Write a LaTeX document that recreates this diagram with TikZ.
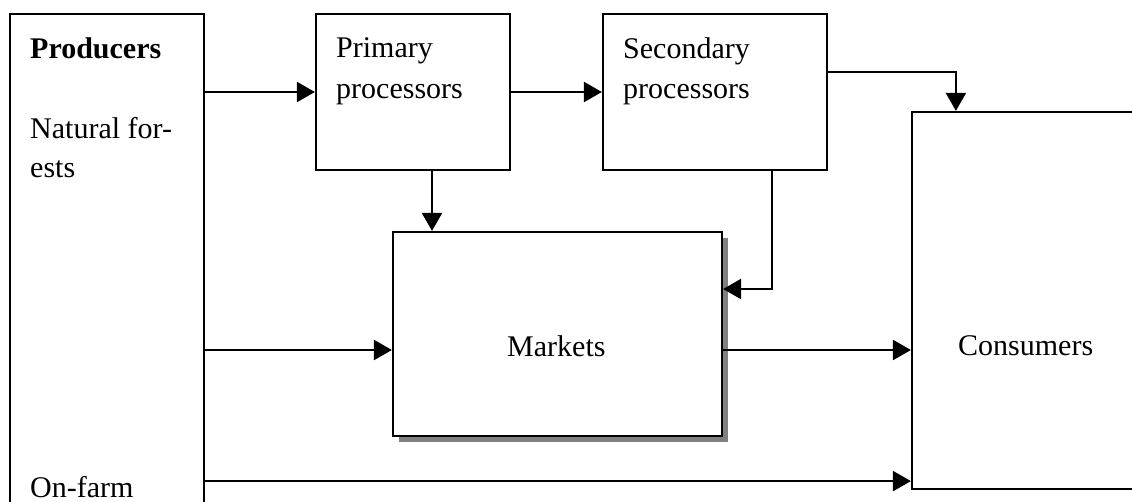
\documentclass[tikz,border=0pt]{standalone}
\usepackage{fontspec}
\setmainfont{Liberation Serif}
\usetikzlibrary{arrows.meta,shadows}
\begin{document}
\begin{tikzpicture}[x=1pt,y=-1pt,
  box/.style={draw=black,line width=2.2pt,fill=white,inner sep=0pt},
  lbl/.style={anchor=base west,inner sep=0pt,font=\fontsize{30}{40}\selectfont},
  flow/.style={line width=2.2pt,-{Triangle[length=18pt,width=20pt]}},
  link/.style={line width=2.2pt}]
\useasboundingbox (0,0) rectangle (1132,501);
\clip (0,0) rectangle (1132,501);
\fill[white] (0,0) rectangle (1132,501);

% boxes
\node[box,minimum width=194pt,minimum height=540pt] (prod) at (107,284) {};
\node[box,minimum width=194pt,minimum height=156pt] (prim) at (413,92) {};
\node[box,minimum width=224pt,minimum height=156pt] (sec) at (715,92) {};
\node[box,minimum width=329pt,minimum height=204pt,
      drop shadow={shadow xshift=6pt,shadow yshift=-6pt,fill=black!50,opacity=1}] (mkt) at (557.5,334) {};
\node[box,minimum width=260pt,minimum height=377pt] (cons) at (1042,300.5) {};

% labels
\node[lbl,font=\fontsize{30}{40}\selectfont\bfseries] (tprod) at (30,58) {Producers};
\node[lbl] (tnat1) at (30,138) {Natural for-};
\node[lbl] (tnat2) at (30,177) {ests};
\node[lbl] (tfarm) at (30,497) {On-farm};
\node[lbl] (tprim1) at (336,57) {Primary};
\node[lbl] (tprim2) at (336,98) {processors};
\node[lbl] (tsec1) at (623,58) {Secondary};
\node[lbl] (tsec2) at (623,98) {processors};
\node[lbl] (tmkt) at (507,356) {Markets};
\node[lbl] (tcons) at (958,355) {Consumers};

% helper points on the box sides
\coordinate (mIn) at ([yshift=-16pt]mkt.west);
\coordinate (cIn) at ([yshift=-16pt]mkt.east -| cons.west);
\coordinate (cLow) at ([yshift=9pt]cons.south west);
\coordinate (cTop) at ([xshift=45pt]cons.north west);
\coordinate (mSide) at ([yshift=45pt]mkt.east);
\coordinate (pDown) at ([xshift=19pt]prim.south);
\coordinate (sDown) at ([xshift=57pt]sec.south);

% connectors
\draw[flow] (prod.east |- prim.west) -- (prim.west);
\draw[flow] (prim.east) -- (sec.west);
\draw[flow] ([yshift=20pt]sec.east) -| (cTop);
\draw[flow] (pDown) -- (pDown |- mkt.north);
\draw[flow] (sDown) |- (mSide);
\draw[flow] (prod.east |- mIn) -- (mIn);
\draw[flow] (mkt.east |- cIn) -- (cIn);
\draw[flow] (prod.east |- cLow) -- (cLow);
\end{tikzpicture}
\end{document}
